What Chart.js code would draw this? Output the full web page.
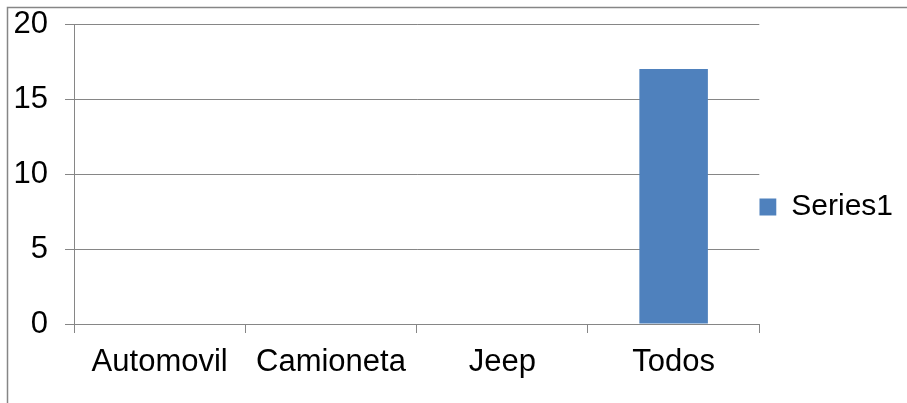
<!DOCTYPE html>
<html>
<head>
<meta charset="utf-8">
<title>Series1</title>
<script src="https://cdn.jsdelivr.net/npm/chart.js@4/dist/chart.umd.min.js"></script>
<style>
  html, body { margin: 0; padding: 0; background: #fff; }
  canvas { display: block; }
</style>
</head>
<body>
<canvas id="chart" width="907" height="403"></canvas>
<script>
const categories = ["Automovil", "Camioneta", "Jeep", "Todos"];
const series1 = [0, 0, 0, 17];
const seriesName = "Series1";

const AXIS_GRAY = "#868686";
const FONT = "'Liberation Sans', Arial, sans-serif";

// thin frame along the left and top edges
const frame = {
  id: "frame",
  beforeDraw(chart) {
    const ctx = chart.ctx;
    ctx.save();
    ctx.strokeStyle = AXIS_GRAY;
    ctx.lineWidth = 1.5;
    ctx.beginPath();
    ctx.moveTo(7.5, chart.height);
    ctx.lineTo(7.5, 7.5);
    ctx.lineTo(chart.width, 7.5);
    ctx.stroke();
    ctx.restore();
  }
};

new Chart(document.getElementById("chart").getContext("2d"), {
  type: "bar",
  data: {
    labels: categories,
    datasets: [
      {
        label: seriesName,
        data: series1,
        backgroundColor: "#4F81BD",
        borderWidth: 0,
        barPercentage: 0.4,
        categoryPercentage: 1
      }
    ]
  },
  options: {
    responsive: false,
    animation: false,
    devicePixelRatio: 1,
    layout: { padding: { left: 7, top: 24, right: 4, bottom: 13 } },
    plugins: {
      legend: {
        position: "right",
        labels: {
          color: "#000",
          boxWidth: 17,
          boxHeight: 17,
          padding: 0,
          font: { family: FONT, size: 30 }
        }
      },
      tooltip: { enabled: false }
    },
    scales: {
      x: {
        afterFit(scale) { scale.height = 66; },
        grid: {
          offset: true,
          drawOnChartArea: false,
          tickLength: 9,
          color: AXIS_GRAY
        },
        border: { color: AXIS_GRAY },
        ticks: {
          color: "#000",
          padding: 11,
          maxRotation: 0,
          font: { family: FONT, size: 31 }
        }
      },
      y: {
        min: 0,
        max: 20,
        afterFit(scale) {
          scale.width = 67;
          // keep the plot top pinned to the layout padding
          scale.paddingTop = 0;
          scale.paddingBottom = 0;
        },
        grid: {
          tickLength: 9,
          color: AXIS_GRAY
        },
        border: { color: AXIS_GRAY },
        ticks: {
          stepSize: 5,
          color: "#000",
          padding: 17,
          font: { family: FONT, size: 31 }
        }
      }
    }
  },
  plugins: [frame]
});
</script>
</body>
</html>
